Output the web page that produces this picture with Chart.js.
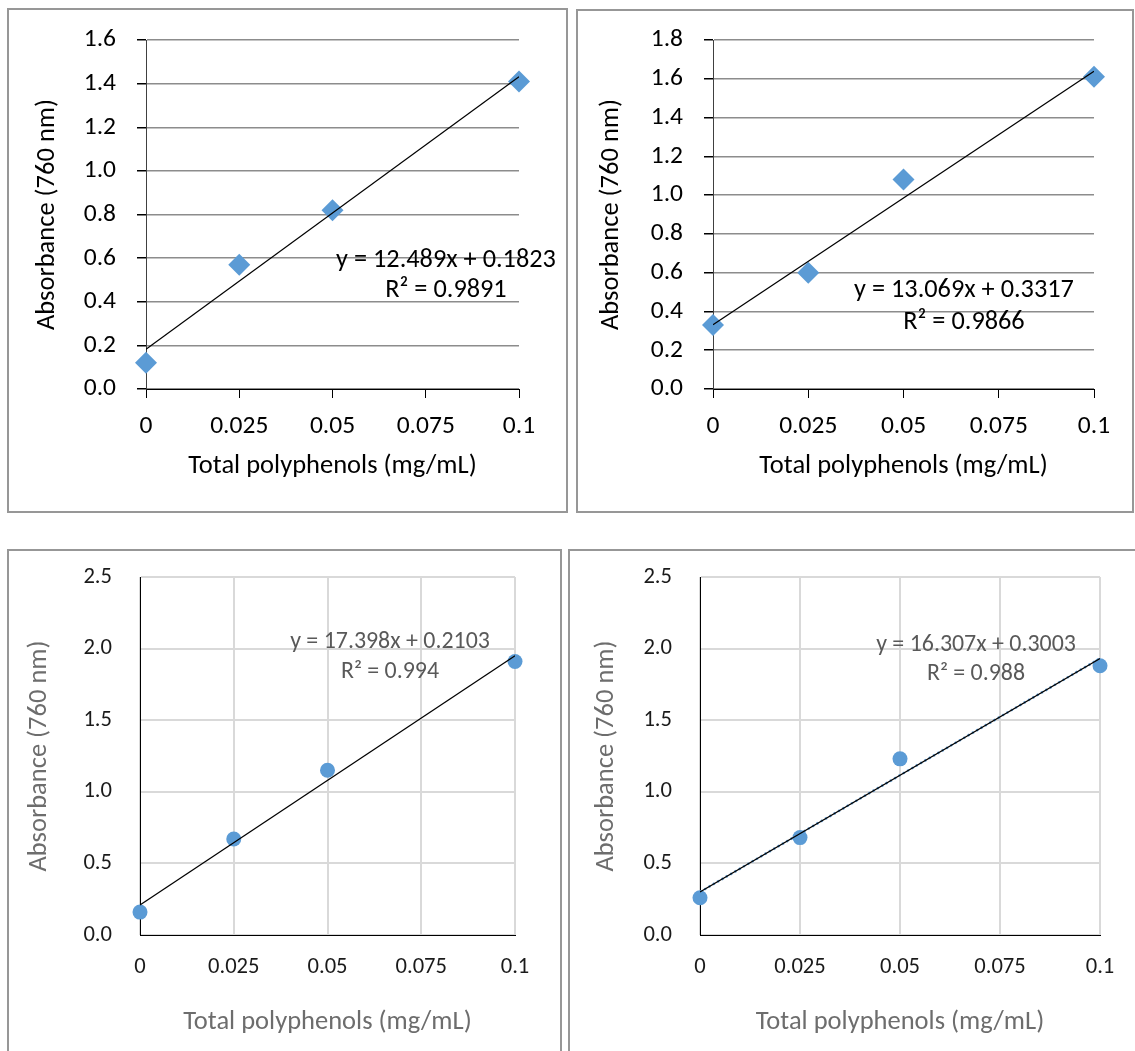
<!DOCTYPE html>
<html>
<head>
<meta charset="utf-8">
<script src="https://cdn.jsdelivr.net/npm/chart.js@4.4.1/dist/chart.umd.min.js"></script>
<style>
    body { margin: 0; background: #fff; width: 1135px; height: 1051px; overflow: hidden; position: relative; }
    .panel { position: absolute; }
    .panel canvas { position: absolute; left: 0; top: 0; }
    .frame { position: absolute; left: 0; top: 0; right: 0; bottom: 0; border: 2px solid #979797; box-sizing: border-box; pointer-events: none; }
</style>
</head>
<body>
<div class="panel" style="left:7px;top:8px;width:561px;height:505px"><canvas id="chartA" width="561" height="505"></canvas><div class="frame"></div></div>
<div class="panel" style="left:576px;top:9px;width:558px;height:504px"><canvas id="chartB" width="558" height="504"></canvas><div class="frame"></div></div>
<div class="panel" style="left:7px;top:549px;width:555px;height:600px"><canvas id="chartC" width="555" height="600"></canvas><div class="frame"></div></div>
<div class="panel" style="left:568px;top:549px;width:600px;height:600px"><canvas id="chartD" width="600" height="600"></canvas><div class="frame"></div></div>

<script>
// ========== DATA ==========
const concentrations = [0, 0.025, 0.05, 0.1];
const absorbanceA = [0.12, 0.57, 0.82, 1.41];
const absorbanceB = [0.33, 0.60, 1.08, 1.61];
const absorbanceC = [0.16, 0.67, 1.15, 1.91];
const absorbanceD = [0.26, 0.68, 1.23, 1.88];

// trendline equations as printed on the charts
const slopes = ["12.489", "13.069", "17.398", "16.307"];
const intercepts = ["0.1823", "0.3317", "0.2103", "0.3003"];
const rSquared = ["0.9891", "0.9866", "0.994", "0.988"];

const xTicks = [0, 0.025, 0.05, 0.075, 0.1];
const xTickLabels = ["0", "0.025", "0.05", "0.075", "0.1"];
const yTicksA = [0, 0.2, 0.4, 0.6, 0.8, 1.0, 1.2, 1.4, 1.6];
const yTickLabelsA = ["0.0", "0.2", "0.4", "0.6", "0.8", "1.0", "1.2", "1.4", "1.6"];
const yTicksB = [0, 0.2, 0.4, 0.6, 0.8, 1.0, 1.2, 1.4, 1.6, 1.8];
const yTickLabelsB = ["0.0", "0.2", "0.4", "0.6", "0.8", "1.0", "1.2", "1.4", "1.6", "1.8"];
const yTicksC = [0, 0.5, 1.0, 1.5, 2.0, 2.5];
const yTickLabelsC = ["0.0", "0.5", "1.0", "1.5", "2.0", "2.5"];

const xTitle = "Total polyphenols (mg/mL)";
const yTitle = "Absorbance (760 nm)";

// ========== SETTINGS ==========
const FONT = "Carlito, Calibri, Lato, sans-serif";
const BLUE = "#5b9bd5";
Chart.defaults.font.family = FONT;

// draws the two-line trendline label
const equationLabel = {
    id: "equationLabel",
    afterDatasetsDraw(chart, args, opts) {
        const ctx = chart.ctx;
        ctx.save();
        ctx.font = opts.size + "px " + FONT;
        ctx.fillStyle = opts.color;
        ctx.textAlign = "center";
        ctx.textBaseline = "middle";
        ctx.fillText(opts.lines[0], opts.x, opts.y1);
        ctx.fillText(opts.lines[1], opts.x, opts.y2);
        ctx.restore();
    }
};

function makeChart(id, values, i, yTicks, yLabels, s) {
    const slope = parseFloat(slopes[i]);
    const intercept = parseFloat(intercepts[i]);
    const x0 = concentrations[0];
    const x1 = concentrations[concentrations.length - 1];
    const trend = [
        { x: x0, y: slope * x0 + intercept },
        { x: x1, y: slope * x1 + intercept }
    ];
    const points = concentrations.map((c, k) => ({ x: c, y: values[k] }));
    const canvas = document.getElementById(id);
    const W = canvas.width, H = canvas.height;
    const area = s.area;

    const datasets = [
        {
            type: "line",
            data: trend,
            borderColor: "#000",
            borderWidth: 1.2,
            pointRadius: 0,
            showLine: true,
            fill: false
        }
    ];
    if (s.dottedTrend) {
        datasets.push({
            type: "line",
            data: trend,
            borderColor: BLUE,
            borderWidth: 2.5,
            borderDash: [2, 3],
            pointRadius: 0,
            showLine: true,
            fill: false
        });
    }
    datasets.push({
        data: points,
        pointStyle: s.marker,
        pointRadius: s.markerSize,
        pointBackgroundColor: BLUE,
        pointBorderWidth: 0,
        showLine: false,
        clip: false
    });

    return new Chart(canvas, {
        type: "scatter",
        data: { datasets: datasets },
        plugins: [equationLabel],
        options: {
            responsive: false,
            animation: false,
            devicePixelRatio: 1,
            layout: { padding: { left: 0, top: area.top, right: W - area.right, bottom: 0 } },
            plugins: {
                legend: { display: false },
                tooltip: { enabled: false },
                equationLabel: {
                    lines: ["y = " + slopes[i] + "x + " + intercepts[i], "R\u00b2 = " + rSquared[i]],
                    x: s.label.x, y1: s.label.y1, y2: s.label.y2,
                    size: s.label.size, color: s.label.color
                }
            },
            scales: {
                x: {
                    type: "linear",
                    min: xTicks[0],
                    max: xTicks[xTicks.length - 1],
                    afterBuildTicks: sc => { sc.ticks = xTicks.map(v => ({ value: v })); },
                    afterFit: sc => { sc.height = H - area.bottom; },
                    ticks: {
                        autoSkip: false,
                        maxRotation: 0,
                        padding: s.xTickPad,
                        color: s.tickColor,
                        font: { size: s.tickSize },
                        callback: (v, k) => xTickLabels[k]
                    },
                    grid: s.xGrid,
                    border: { color: "#000", width: 1 },
                    title: {
                        display: true,
                        text: xTitle,
                        color: s.titleColor,
                        font: { size: s.titleSize },
                        padding: { top: 0, bottom: s.xTitlePad }
                    }
                },
                y: {
                    type: "linear",
                    min: yTicks[0],
                    max: yTicks[yTicks.length - 1],
                    afterBuildTicks: sc => { sc.ticks = yTicks.map(v => ({ value: v })); },
                    afterFit: sc => {
                        // fixed plot area: keep label overflow from pushing it in
                        sc.width = area.left;
                        sc.paddingTop = 0;
                        sc.paddingBottom = 0;
                    },
                    ticks: {
                        padding: s.yTickPad,
                        color: s.tickColor,
                        font: { size: s.tickSize },
                        callback: (v, k) => yLabels[k]
                    },
                    grid: s.yGrid,
                    border: { color: s.yAxisColor, width: 1 },
                    title: {
                        display: true,
                        text: yTitle,
                        color: s.titleColor,
                        font: { size: s.titleSize },
                        padding: { top: s.yTitlePad, bottom: 0 }
                    }
                }
            }
        }
    });
}

// top row: diamonds, horizontal gridlines, outside tick marks
const classicX = { drawOnChartArea: false, drawTicks: true, tickLength: 9, color: "#000", tickColor: "#000" };
const classicY = { color: "#8c8c8c", lineWidth: 1.5, drawTicks: true, tickLength: 9, tickColor: "#000" };
// bottom row: circles, light grid both ways
const lightGrid = { color: "#d9d9d9", lineWidth: 2, drawTicks: false };

makeChart("chartA", absorbanceA, 0, yTicksA, yTickLabelsA, {
    area: { left: 139, top: 32, right: 512, bottom: 381 },
    marker: "rectRot", markerSize: 11,
    xGrid: classicX, yGrid: classicY, yAxisColor: "#404040",
    tickColor: "#000", tickSize: 25.5, titleColor: "#000", titleSize: 26.5,
    xTickPad: 13, yTickPad: 21, xTitlePad: 31, yTitlePad: 24,
    label: { x: 439, y1: 252, y2: 282, size: 26.3, color: "#000" }
});

makeChart("chartB", absorbanceB, 1, yTicksB, yTickLabelsB, {
    area: { left: 137, top: 31, right: 518, bottom: 380 },
    marker: "rectRot", markerSize: 11,
    xGrid: classicX, yGrid: classicY, yAxisColor: "#404040",
    tickColor: "#000", tickSize: 25.5, titleColor: "#000", titleSize: 26.5,
    xTickPad: 13, yTickPad: 21, xTitlePad: 31, yTitlePad: 19,
    label: { x: 388, y1: 281, y2: 313, size: 26.3, color: "#000" }
});

makeChart("chartC", absorbanceC, 2, yTicksC, yTickLabelsC, {
    area: { left: 133, top: 28, right: 508, bottom: 386 },
    marker: "circle", markerSize: 7.5,
    xGrid: lightGrid, yGrid: lightGrid, yAxisColor: "#000",
    tickColor: "#1a1a1a", tickSize: 22.6, titleColor: "#6d6d6d", titleSize: 26.5,
    xTickPad: 19, yTickPad: 28, xTitlePad: 111, yTitlePad: 16,
    label: { x: 383, y1: 93, y2: 123, size: 23.9, color: "#595959" }
});

makeChart("chartD", absorbanceD, 3, yTicksC, yTickLabelsC, {
    area: { left: 132, top: 28, right: 532, bottom: 386 },
    marker: "circle", markerSize: 7.5, dottedTrend: true,
    xGrid: lightGrid, yGrid: lightGrid, yAxisColor: "#000",
    tickColor: "#1a1a1a", tickSize: 22.6, titleColor: "#6d6d6d", titleSize: 26.5,
    xTickPad: 19, yTickPad: 28, xTitlePad: 111, yTitlePad: 22,
    label: { x: 408, y1: 96, y2: 125, size: 23.9, color: "#595959" }
});
</script>
</body>
</html>
